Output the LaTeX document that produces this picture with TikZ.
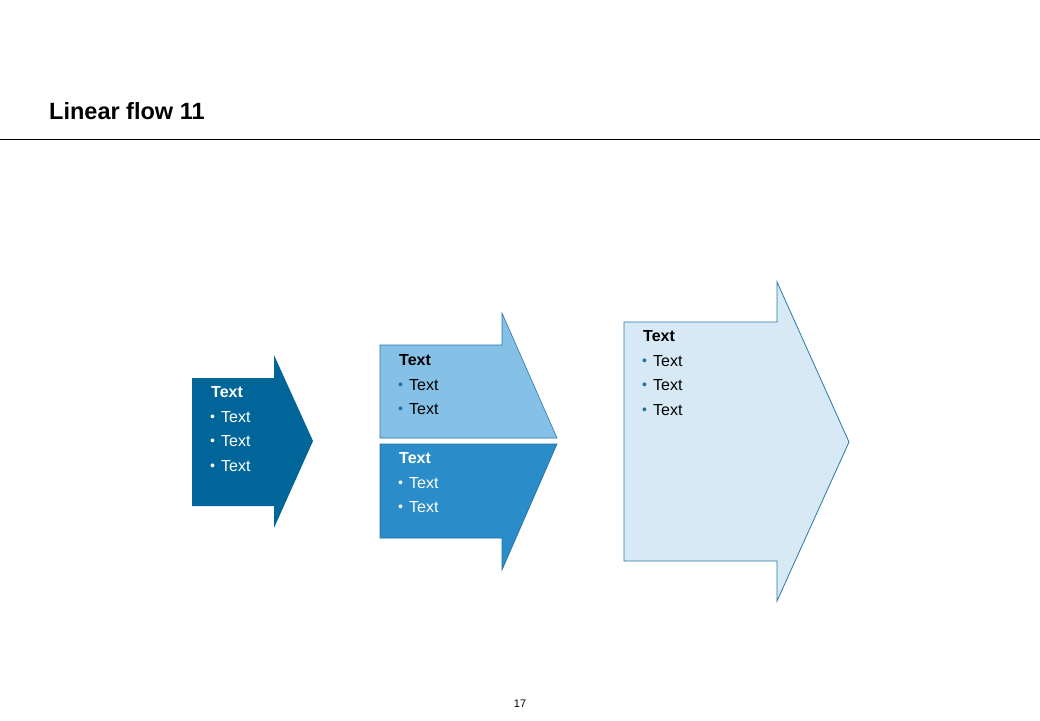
\documentclass[tikz,border=0pt]{standalone}
\usepackage{fontspec}
\setmainfont{Liberation Sans}
\definecolor{darkarrow}{HTML}{006699}
\definecolor{midlight}{HTML}{85C1E6}
\definecolor{middark}{HTML}{2A8CC8}
\definecolor{bigfill}{HTML}{D6E9F5}
\definecolor{edgeblue}{HTML}{2A78A8}
\definecolor{bulletblue}{HTML}{1F6FA0}
\begin{document}
\begin{tikzpicture}[x=1pt,y=-1pt,
  hd/.style={anchor=base west,inner sep=0pt,font=\fontsize{16}{19}\selectfont\bfseries},
  it/.style={anchor=base west,inner sep=0pt,font=\fontsize{16}{19}\selectfont},
  bl/.style={anchor=base west,inner sep=0pt,font=\fontsize{14}{16}\selectfont}]
\useasboundingbox (0,0) rectangle (1040,720);
\fill[white] (0,0) rectangle (1040,720);
% title
\node[anchor=base west,inner sep=0pt,font=\fontsize{23.5}{28}\selectfont\bfseries] (title) at (49,119) {Linear flow 11};
\draw[line width=1pt] (0,139) -- (1040,139);
% left arrow
\fill[darkarrow] (192,378) -- (274,378) -- (274,355) -- (313,441) -- (274,528) -- (274,506) -- (192,506) -- cycle;
% middle top
\filldraw[fill=midlight,draw=edgeblue,line width=0.6pt] (380,345) -- (502,345) -- (502,313) -- (557,438) -- (380,438) -- cycle;
% middle bottom
\filldraw[fill=middark,draw=middark!80!black,line width=0.6pt] (380,444) -- (557,444) -- (502,570) -- (502,538) -- (380,538) -- cycle;
% right arrow
\filldraw[fill=bigfill,draw=edgeblue,line width=0.8pt] (624,322) -- (777,322) -- (777,282) -- (849,442) -- (777,601) -- (777,561) -- (624,561) -- cycle;
% left texts
\begin{scope}[white]
\node[hd] (l0) at (211,397) {Text};
\node[bl] (lb1) at (210,421) {•}; \node[it] (l1) at (221,422) {Text};
\node[bl] (lb2) at (210,445) {•}; \node[it] (l2) at (221,446) {Text};
\node[bl] (lb3) at (210,470) {•}; \node[it] (l3) at (221,471) {Text};
\end{scope}
% middle top texts
\node[hd] (m0) at (399,365) {Text};
\node[bl,bulletblue] (mb1) at (398,389) {•}; \node[it] (m1) at (409,390) {Text};
\node[bl,bulletblue] (mb2) at (398,413) {•}; \node[it] (m2) at (409,414) {Text};
% middle bottom texts
\begin{scope}[white]
\node[hd] (n0) at (399,463) {Text};
\node[bl] (nb1) at (398,487) {•}; \node[it] (n1) at (409,488) {Text};
\node[bl] (nb2) at (398,511) {•}; \node[it] (n2) at (409,512) {Text};
\end{scope}
% right texts
\node[hd] (r0) at (643,341) {Text};
\node[bl,bulletblue] (rb1) at (642,365) {•}; \node[it] (r1) at (653,366) {Text};
\node[bl,bulletblue] (rb2) at (642,389) {•}; \node[it] (r2) at (653,390) {Text};
\node[bl,bulletblue] (rb3) at (642,414) {•}; \node[it] (r3) at (653,415) {Text};
% page number
\node[anchor=base,inner sep=0pt,font=\fontsize{11}{13}\selectfont] (pg) at (520,707) {17};
\end{tikzpicture}
\end{document}
